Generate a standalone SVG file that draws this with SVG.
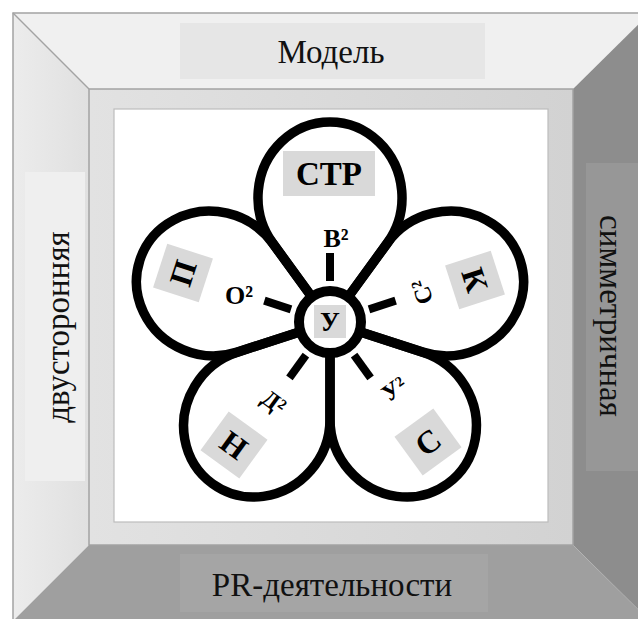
<svg xmlns="http://www.w3.org/2000/svg" width="638" height="619" viewBox="0 0 638 619">
<defs>
<linearGradient id="face" x1="0" y1="0" x2="1" y2="0">
<stop offset="0" stop-color="#e2e2e2"/>
<stop offset="1" stop-color="#d2d2d2"/>
</linearGradient>
<linearGradient id="leftbevel" x1="0" y1="0" x2="1" y2="0">
<stop offset="0" stop-color="#ececec"/>
<stop offset="1" stop-color="#e0e0e0"/>
</linearGradient>
<path id="petal" d="M -19.4 -26.7 L -57.3 -78.9 A 72 75.4 0 1 1 57.3 -78.9 L 19.4 -26.7"/>
</defs>
<style>
.frame-text{font-family:"Liberation Serif","Times New Roman",serif;font-size:33px;fill:#111;text-anchor:middle}
.pl{font-family:"Liberation Serif","Times New Roman",serif;font-weight:bold;fill:#000;text-anchor:middle}
.box{fill:#d9d9d9}
.petal{fill:none;stroke:#000;stroke-width:9.5;stroke-linejoin:round}
.spoke{stroke:#000;stroke-width:8}
.edge{stroke:#a3a3a3;stroke-width:1.5;fill:none}
</style>
<rect width="638" height="619" fill="#fff"/>
<g id="frame">
<polygon points="13,13 650,13 573,89 89,89" fill="#f0f0f0"/>
<polygon points="13,13 89,89 89,545 13,621" fill="url(#leftbevel)"/>
<polygon points="650,13 650,621 573,545 573,89" fill="#8d8d8d"/>
<polygon points="13,621 89,545 573,545 650,621" fill="#9f9f9f"/>
<rect x="89" y="89" width="484" height="456" fill="url(#face)"/>
<polyline class="edge" points="13,621 13,13 650,13"/>
<line class="edge" x1="13" y1="13" x2="89" y2="89"/>
<rect class="edge" x="89" y="89" width="484" height="456" stroke="#b8b8b8"/>
<rect x="114" y="109" width="434" height="413" fill="#fff" stroke="#bdbdbd" stroke-width="1.2"/>
</g>
<g id="label-top">
<rect x="180" y="23" width="305" height="56" fill="#e6e6e6"/>
<text class="frame-text" x="331" y="63">Модель</text>
</g>
<g id="label-left">
<rect x="25" y="172" width="60" height="309" fill="#efefef"/>
<text class="frame-text" transform="translate(61,327) rotate(-90)" y="8">двусторонняя</text>
</g>
<g id="label-right">
<rect x="586" y="163" width="64" height="308" fill="#979797"/>
<text class="frame-text" transform="translate(608,316) rotate(90)" y="8">симметричная</text>
</g>
<g id="label-bottom">
<rect x="180" y="554" width="308" height="58" fill="#a5a5a5"/>
<text class="frame-text" x="332" y="596">PR-деятельности</text>
</g>
<g id="connectors" transform="translate(330,322)">
<line class="spoke" x1="0" y1="-41" x2="0" y2="-69"/>
<line class="spoke" x1="0" y1="-41" x2="0" y2="-69" transform="rotate(72)"/>
<line class="spoke" x1="0" y1="-41" x2="0" y2="-69" transform="rotate(144)"/>
<line class="spoke" x1="0" y1="-41" x2="0" y2="-69" transform="rotate(216)"/>
<line class="spoke" x1="0" y1="-41" x2="0" y2="-69" transform="rotate(288)"/>
</g>
<g id="petal-str">
<use href="#petal" class="petal" transform="translate(330,322)"/>
<rect class="box" x="283" y="151" width="92" height="45"/>
<text class="pl" x="329" y="185" font-size="33">СТР</text>
</g>
<g id="petal-k">
<use href="#petal" class="petal" transform="translate(330,322) rotate(72)"/>
<g transform="translate(475,280) rotate(72)">
<rect class="box" x="-23" y="-24" width="46" height="48"/>
<text class="pl" y="11" font-size="32">К</text>
</g>
</g>
<g id="petal-s">
<use href="#petal" class="petal" transform="translate(330,322) rotate(144)"/>
<g transform="translate(428,442) rotate(-36)">
<rect class="box" x="-24" y="-24" width="48" height="48"/>
<text class="pl" y="11" font-size="32">С</text>
</g>
</g>
<g id="petal-n">
<use href="#petal" class="petal" transform="translate(330,322) rotate(216)"/>
<g transform="translate(234,445) rotate(36)">
<rect class="box" x="-24" y="-24" width="48" height="48"/>
<text class="pl" y="11" font-size="32">Н</text>
</g>
</g>
<g id="petal-p">
<use href="#petal" class="petal" transform="translate(330,322) rotate(288)"/>
<g transform="translate(183,273) rotate(-72)">
<rect class="box" x="-23" y="-24" width="46" height="48"/>
<text class="pl" y="11" font-size="32">П</text>
</g>
</g>
<g id="center">
<circle cx="330" cy="322" r="31" fill="#fff" stroke="#000" stroke-width="10"/>
<rect class="box" x="314" y="305" width="32" height="33"/>
<text class="pl" x="330" y="331" font-size="27">У</text>
</g>
<g id="spoke-labels">
<text class="pl" x="336" y="247" font-size="26">В²</text>
<text class="pl" x="239" y="304" font-size="26">О²</text>
<text class="pl" transform="translate(422,292) rotate(-108)" y="8" font-size="24">С²</text>
<text class="pl" transform="translate(394,389) rotate(-36)" y="8" font-size="24">У²</text>
<text class="pl" transform="translate(274,402) rotate(36)" y="8" font-size="24">Д²</text>
</g>
</svg>
